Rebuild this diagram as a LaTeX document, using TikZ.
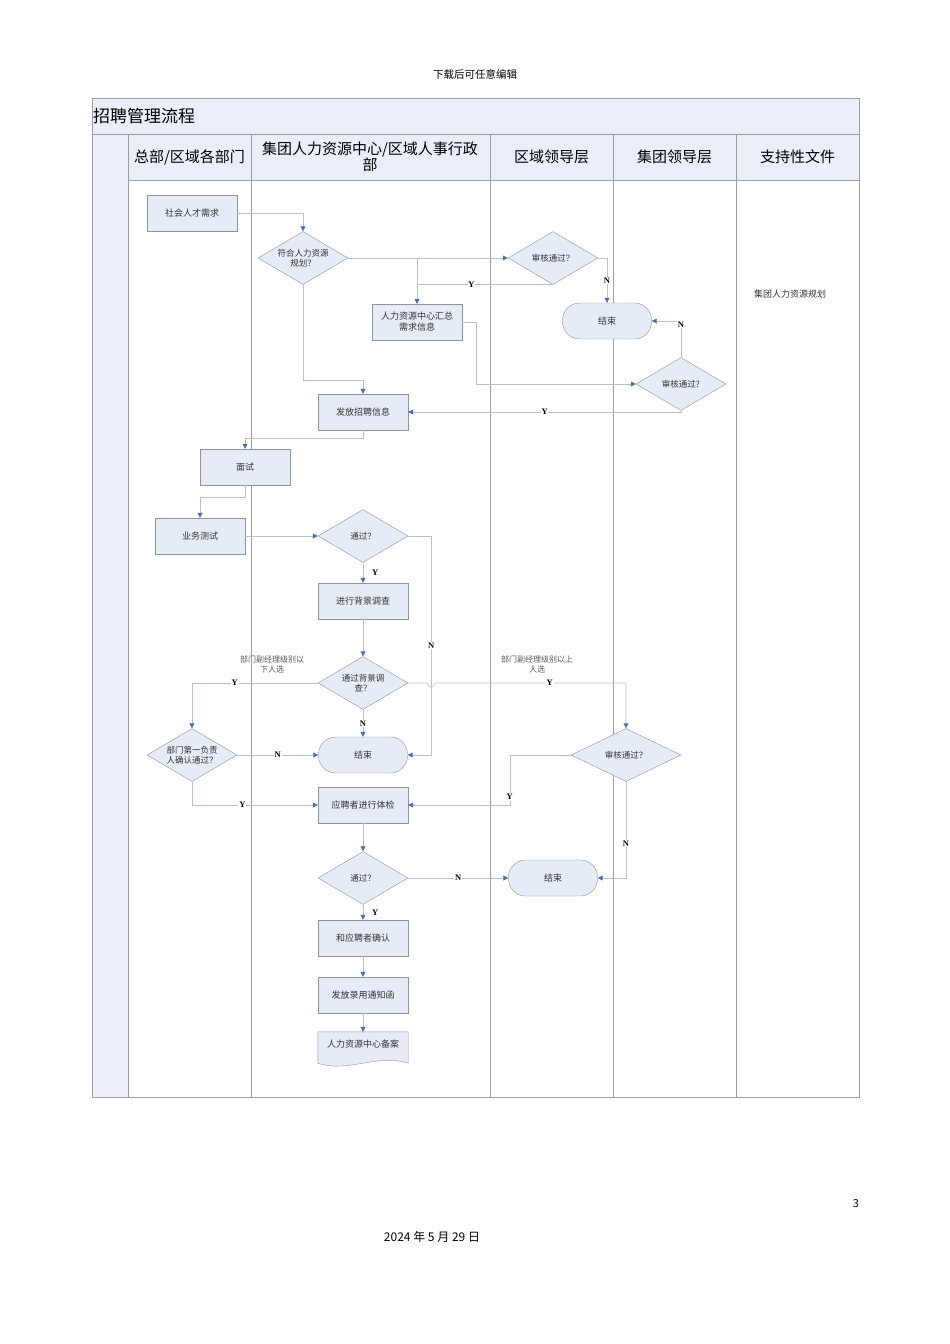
\documentclass[tikz,border=0pt]{standalone}
\usepackage{fontspec}
\newfontfamily\cjk{Noto Sans CJK SC}
\newfontfamily\ynfont{Liberation Serif}
\usetikzlibrary{shapes.geometric,arrows.meta}

% colours of the chart
\definecolor{lanefill}{HTML}{E9EEF8}
\definecolor{boxfill}{HTML}{E6ECF6}
\definecolor{boxline}{HTML}{8E939C}
\definecolor{flowline}{HTML}{B8C0CC}
\definecolor{tipblue}{HTML}{4A6FB0}
\definecolor{laneline}{HTML}{9C9C9C}

\tikzset{
  boxtext/.style={font=\cjk\fontsize{9}{11}\selectfont, text=black!80, align=center},
  procbox/.style={boxtext, draw=boxline, fill=boxfill, minimum width=90, minimum height=36, inner sep=1pt},
  decision/.style={boxtext, font=\cjk\fontsize{8.5}{10}\selectfont, diamond, aspect=1.7, draw=boxline, fill=boxfill, minimum width=90, minimum height=53, inner sep=0pt},
  endbox/.style={boxtext, draw=boxline, fill=boxfill, rounded corners=17pt, minimum width=89, minimum height=36},
  flow/.style={draw=flowline, line width=0.6pt, -{Triangle[length=5pt,width=5pt,color=tipblue]}},
  plain/.style={draw=flowline, line width=0.6pt},
  yn/.style={font=\ynfont\bfseries\fontsize{8.5}{9}\selectfont, fill=white, inner sep=0.8pt},
  headtext/.style={font=\cjk\fontsize{15}{17}\selectfont, align=center},
  notetext/.style={font=\cjk\fontsize{8}{10}\selectfont, text=black!65, align=center}
}

\begin{document}
\begin{tikzpicture}[x=1pt,y=-1pt]

  % page size
  \useasboundingbox (0,0) rectangle (950,1344);

  % page header
  \node[font=\cjk\fontsize{10.5}{12}\selectfont] (pagehead) at (475,74) {下载后可任意编辑};

  % frame, title row and lane headers
  \fill[lanefill] (92,98) rectangle (859,134);
  \fill[lanefill] (92,134) rectangle (128,1097);
  \fill[lanefill] (128,134) rectangle (859,180);
  \draw[laneline] (92,98) rectangle (859,1097);
  \draw[laneline] (92,134) -- (859,134);
  \draw[laneline] (128,180) -- (859,180);
  \foreach \x in {128,251,490,613,736}
    \draw[laneline] (\x,134) -- (\x,1097);

  \node[anchor=west, font=\cjk\fontsize{17}{19}\selectfont, inner sep=0pt] (title) at (93,116) {招聘管理流程};
  \node[headtext] (lanedept) at (189.5,157) {总部/区域各部门};
  \node[headtext, font=\cjk\fontsize{15}{16}\selectfont] (lanehr) at (370,157) {集团人力资源中心/区域人事行政\\部};
  \node[headtext] (laneregion) at (551.5,157) {区域领导层};
  \node[headtext] (lanegroup) at (674.5,157) {集团领导层};
  \node[headtext] (lanedoc) at (797.5,157) {支持性文件};

  % steps of the process
  \node[procbox] (need) at (192,213) {社会人才需求};
  \node[decision] (fit) at (303,258) {符合人力资源\\规划？};
  \node[decision] (audit1) at (553,258) {审核通过？};
  \node[procbox] (collect) at (417,322) {人力资源中心汇总\\需求信息};
  \node[endbox] (end1) at (607,321) {结束};
  \node[decision] (audit2) at (681,384) {审核通过?};
  \node[procbox] (release) at (363,412) {发放招聘信息};
  \node[procbox] (interview) at (245,467) {面试};
  \node[procbox] (test) at (200,536) {业务测试};
  \node[decision] (pass1) at (363,536) {通过？};
  \node[procbox] (check) at (363,601) {进行背景调查};
  \node[decision] (pass2) at (363,683) {通过背景调\\查？};
  \node[decision] (confirm1) at (192,755) {部门第一负责\\人确认通过？};
  \node[endbox] (end2) at (363,755) {结束};
  \node[decision, minimum width=110, aspect=2] (audit3) at (626,755) {审核通过？};
  \node[procbox] (exam) at (363,805) {应聘者进行体检};
  \node[decision] (pass3) at (363,878) {通过？};
  \node[endbox] (end3) at (553,878) {结束};
  \node[procbox] (confirm2) at (363,938) {和应聘者确认};
  \node[procbox] (offer) at (363,995) {发放录用通知函};

  % archive as a document shape
  \node[boxtext, minimum width=90, minimum height=31, inner sep=0pt] (archive) at (363,1047.5) {};
  \filldraw[draw=boxline, fill=boxfill] (archive.north west) -- (archive.north east) -- (archive.south east)
    .. controls +(-30,-10) and +(30,10) .. (archive.south west) -- cycle;
  \node[boxtext] (archivetext) at (363,1044) {人力资源中心备案};

  % notes
  \node[boxtext] (plandoc) at (790,294) {集团人力资源规划};
  \node[notetext] (lownote) at (272,664) {部门副经理级别以\\下人选};
  \node[notetext] (highnote) at (537,664) {部门副经理级别以上\\人选};

  % connectors, upper part
  \coordinate (jfit) at (fit.east -| collect.north);
  \draw[flow] (need.east) -| (fit.north);
  \draw[flow] (fit.east) -- (audit1.west);
  \draw[plain] (jfit) -- (jfit |- audit1.south);
  \draw[flow] (audit1.south) -| node[pos=0.3, yn] {Y} (collect.north);
  \draw[flow] (audit1.east) -| node[pos=0.75, yn] {N} (end1.north);
  \draw[flow] (collect.east) -- ++(14,0) |- (audit2.west);
  \draw[flow] (audit2.north) |- node[pos=0.45, yn] {N} (end1.east);
  \draw[flow] (audit2.south) |- node[pos=0.75, yn] {Y} (release.east);
  \draw[flow] (fit.south) -- ++(0,96) -| (release.north);
  \draw[flow] (release.south) -- ++(0,8) -| (interview.north);
  \draw[flow] (interview.south) -- ++(0,12) -| (test.north);
  \draw[flow] (test.east) -- (pass1.west);

  % connectors, background check
  \coordinate (kturn) at ([xshift=23pt]pass1.east);
  \coordinate (cross) at (kturn |- pass2.east);
  \draw[flow] (pass1.east) -- (kturn) |- node[pos=0.25, yn] {N} (end2.east);
  \draw[flow] (pass1.south) -- node[right, xshift=8pt, yn] {Y} (check.north);
  \draw[flow] (check.south) -- (pass2.north);
  \draw[flow] (pass2.west) -| node[pos=0.33, yn] {Y} (confirm1.north);
  \draw[flow] (pass2.east) -- ([xshift=-4pt]cross) arc[start angle=180, end angle=360, radius=4pt]
    -| node[pos=0.3, yn] {Y} (audit3.north);
  \draw[flow] (pass2.south) -- node[yn] {N} (end2.north);
  \draw[flow] (confirm1.east) -- node[yn] {N} (end2.west);
  \draw[flow] (confirm1.south) |- node[pos=0.7, yn] {Y} (exam.west);
  \draw[flow] (audit3.west) -- ++(-61,0) |- node[pos=0.42, yn] {Y} (exam.east);
  \draw[flow] (audit3.south) |- node[pos=0.32, yn] {N} (end3.east);

  % connectors, lower part
  \draw[flow] (exam.south) -- (pass3.north);
  \draw[flow] (pass3.east) -- node[yn] {N} (end3.west);
  \draw[flow] (pass3.south) -- node[right, xshift=8pt, yn] {Y} (confirm2.north);
  \draw[flow] (confirm2.south) -- (offer.north);
  \draw[flow] (offer.south) -- (archive.north);

  % page footer
  \node[font=\fontsize{11}{13}\selectfont\cjk] (pagenum) at (856,1204) {3};
  \node[font=\cjk\fontsize{12}{14}\selectfont] (pagedate) at (432,1237) {2024 年 5 月 29 日};

\end{tikzpicture}
\end{document}
